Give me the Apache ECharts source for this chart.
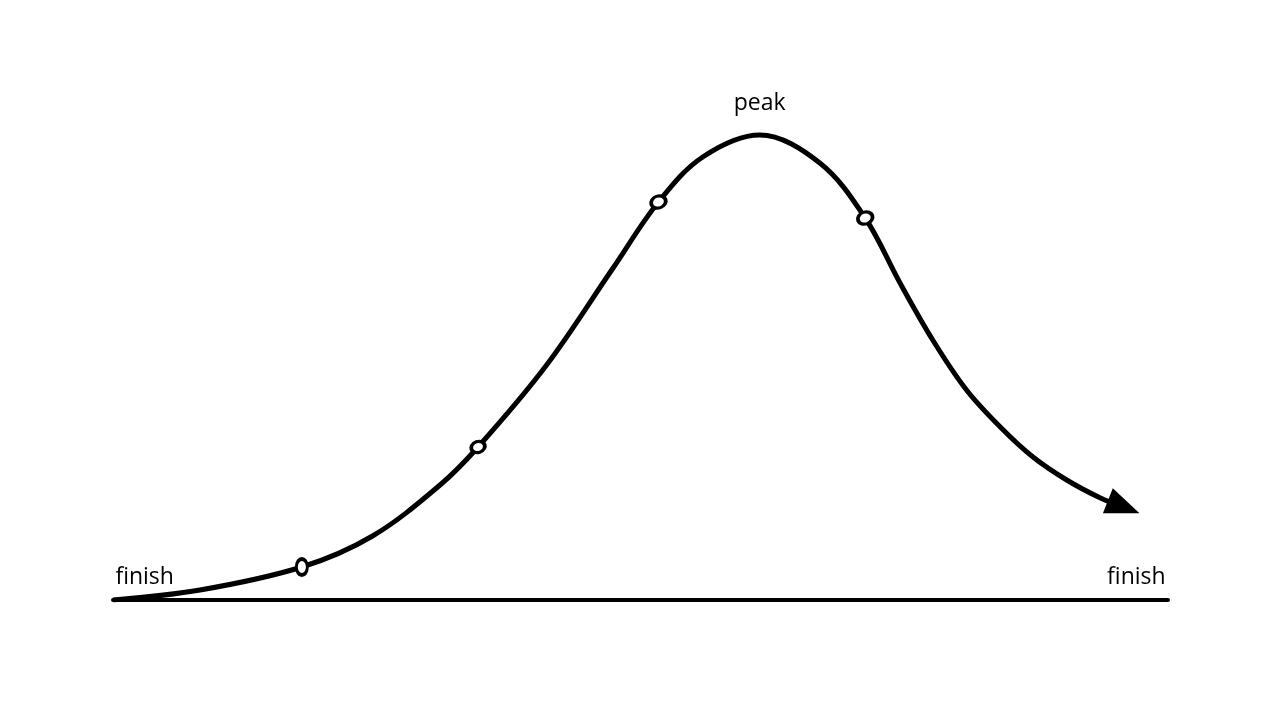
<!DOCTYPE html>
<html>
<head>
<meta charset="utf-8">
<script src="https://cdn.jsdelivr.net/npm/echarts@6/dist/echarts.min.js"></script>
<style>
  html, body { margin: 0; padding: 0; background: #fff; }
  #main { width: 1280px; height: 720px; }
</style>
</head>
<body>
<div id="main"></div>
<script>
// curve (x and y on a 0..100 scale)
var curveX = [0, 8.25, 17.9, 24.6, 31.0, 34.6, 41.1, 47.4, 51.7, 55.9, 61.3, 67.0, 71.3, 74.6, 77.7, 80.9, 84.1, 87.2, 90.4, 93.6, 95.8];
var curveY = [0, 2.0, 6.6, 12.8, 23.0, 30.6, 47.0, 66.4, 79.6, 88.6, 93.0, 87.4, 76.4, 63.4, 52.0, 42.0, 34.6, 28.6, 24.0, 20.4, 18.6];
// small beads on the curve: index, size and tilt
var markerIdx = [2, 5, 8, 12];
var markerW = [11, 14, 15, 15];
var markerH = [16, 11, 12, 12];
var markerTilt = [0, 20, 20, 20];
// text labels
var labelText = ['finish', 'finish', 'peak'];
var labelX = [3.0, 97.0, 61.3];
var labelY = [4.6, 4.6, 99.4];

var myChart = echarts.init(document.getElementById('main'), null, { renderer: 'canvas' });

var lineData = curveX.map(function (x, i) {
    var item = { value: [x, curveY[i]] };
    var m = markerIdx.indexOf(i);
    if (m >= 0) {
        // white-filled ring so the border width is honoured
        item.symbol = 'circle';
        item.symbolSize = [markerW[m], markerH[m]];
        item.symbolRotate = markerTilt[m];
        item.itemStyle = { color: '#fff', borderColor: '#000', borderWidth: 3.5 };
    }
    if (i === curveX.length - 1) {
        // arrow head at the end
        item.symbol = 'triangle';
        item.symbolSize = [27, 34];
        item.symbolRotate = -111.5;
        item.itemStyle = { color: '#000', borderWidth: 0 };
    }
    return item;
});

var labelData = labelText.map(function (t, i) {
    return { value: [labelX[i], labelY[i]], name: t };
});

var option = {
    backgroundColor: '#fff',
    animation: false,
    grid: { left: 113, right: 112, top: 100, bottom: 120 },
    xAxis: {
        type: 'value',
        min: 0,
        max: 100,
        axisLine: { show: true, lineStyle: { color: '#000', width: 4, cap: 'round' } },
        axisTick: { show: false },
        axisLabel: { show: false },
        splitLine: { show: false }
    },
    yAxis: {
        type: 'value',
        min: 0,
        max: 100,
        show: false,
        splitLine: { show: false }
    },
    series: [
        {
            name: 'curve',
            type: 'line',
            smooth: 0.35,
            symbol: 'none',
            showSymbol: true,
            lineStyle: { color: '#000', width: 5 },
            itemStyle: { color: '#000' },
            data: lineData,
            z: 3
        },
        {
            name: 'labels',
            type: 'scatter',
            symbolSize: 0,
            silent: true,
            itemStyle: { opacity: 1 },
            label: {
                show: true,
                position: 'inside',
                formatter: '{b}',
                color: '#000',
                textBorderWidth: 0,
                fontFamily: 'Open Sans',
                fontSize: 23
            },
            data: labelData,
            z: 4
        }
    ]
};

myChart.setOption(option);
</script>
</body>
</html>
